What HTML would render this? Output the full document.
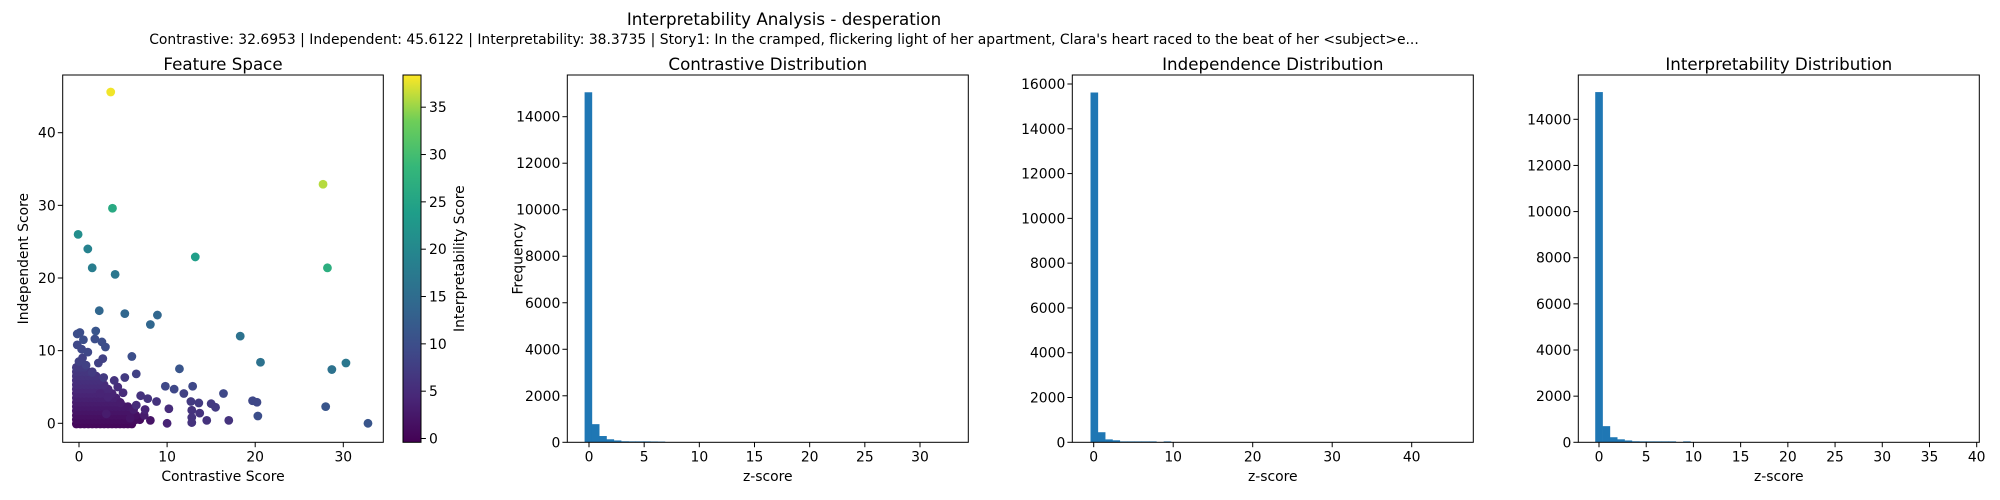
<!DOCTYPE html>
<html><head><meta charset="utf-8"><style>
html,body{margin:0;padding:0;background:#fff;}
svg{display:block;font-family:"DejaVu Sans","Liberation Sans",sans-serif;}
</style></head><body>
<svg id="fig" width="2000" height="500" viewBox="0 0 2000 500" xmlns="http://www.w3.org/2000/svg">
<text x="784" y="25" font-size="16.7" text-anchor="middle" fill="#000">Interpretability Analysis - desperation</text>
<text x="784" y="44" font-size="13.9" text-anchor="middle" fill="#000">Contrastive: 32.6953 | Independent: 45.6122 | Interpretability: 38.3735 | Story1: In the cramped, flickering light of her apartment, Clara's heart raced to the beat of her &lt;subject&gt;e...</text>
<defs>
<linearGradient id="vir" x1="0" y1="1" x2="0" y2="0">
<stop offset="0" stop-color="#440154"/><stop offset="0.125" stop-color="#482878"/><stop offset="0.25" stop-color="#3e4a89"/><stop offset="0.375" stop-color="#31688e"/><stop offset="0.5" stop-color="#26828e"/><stop offset="0.625" stop-color="#1f9e89"/><stop offset="0.75" stop-color="#35b779"/><stop offset="0.875" stop-color="#6ece58"/><stop offset="1" stop-color="#fde725"/>
</linearGradient>
</defs>
<g id="g"></g>
</svg>
<script>
// scatter data: contrastive score, independent score, interpretability score
const scatterX = [3.6,27.7,3.8,-0.1,1,1.5,4.1,13.2,28.2,2.3,5.2,8.9,8.1,18.3,20.6,30.3,28.7,11.4,6,6.5,9.8,10.8,11.9,12.9,16.4,19.7,20.2,20.3,28,32.8,17,14.5,13.6,15,15.5,12.7,12.8,12.8,12.8,13.7,10.2,10,8.8,7.8,7,7.5,6.5,4,5.2,4.4,5,1.9,-0.2,0.1,0.5,1.8,2.6,3,-0.2,0.3,1,2.7,2.2,0,0.8,2.8,1.5,0.4,3.3,4.7,6.2,7.4,8.1,5.8,3.1,2.4];
const scatterY = [45.6,32.9,29.6,26,24,21.4,20.5,22.9,21.4,15.5,15.1,14.9,13.6,12,8.4,8.3,7.4,7.5,9.2,6.8,5.1,4.7,4.1,5.1,4.1,3.1,2.9,1,2.3,0,0.4,0.4,2.8,2.7,2.2,3,1.8,0.8,0.1,1.4,2,0,3,3.4,3.8,1.9,2.5,5.9,6.3,5,4.2,12.7,12.3,12.5,11.5,11.6,11.2,10.5,10.8,10.2,9.8,8.9,8.3,8.5,8,6.3,7,9,3.6,2.8,1.9,1.1,0.4,0.7,1.3,4.1];
const scatterC = [38,36,26,21,19,18,17,24,27,14,14,14,14,16,16,17,16,11,10,8,9,9,8,9,9,9,9,10,11,11,6,6,7,7,7,7,6,6,6,6,5,4,6,6,6,4,5,6,7,5,5,11,10,10,10,10,10,10,9,9,9,8,8,8,8,7,7,8,4,3,3,3,2,2,3,4];
// dense cluster near origin: each row = independent score, max contrastive score reached, typical interpretability
const clusterRowY = [-0.1,0.5,1.1,1.7,2.3,2.9,3.5,4.1,4.7,5.3,5.9,6.5,7.1,7.7];
const clusterRowMaxX = [6.2,7.2,6.8,6.2,5.6,5,4.6,4,3.5,3,2.6,2.2,1.6,1];
const clusterRowC = [0.5,1,1.5,2,2.5,3,3.5,4,4.5,5,5.5,6,6.5,7];
const scatterXTicks = [0,10,20,30];
const scatterYTicks = [0,10,20,30,40];
const cbarTicks = [0,5,10,15,20,25,30,35];
// histograms: bin counts
const contrastCounts = [15050,780,270,130,80,45,40,40,40,35,30,0,0,0,0,0,0,0,0,0,0,0,0,0,0,0,0,0,0,0,0,0,0,0,0,0,0,0,0,0,0,0,0,0,0,0,0,0,0,5];
const independCounts = [15620,450,130,90,40,40,40,40,40,0,40,0,0,0,0,0,0,0,0,0,0,0,0,0,0,0,0,0,0,0,0,0,0,0,0,0,0,0,0,0,0,0,0,0,0,0,0,0,0,5];
const interpCounts = [15180,700,220,130,80,45,40,40,40,40,40,0,40,0,0,0,0,0,0,0,0,0,0,0,0,0,0,0,0,0,0,0,0,0,0,0,0,0,0,0,0,0,0,0,0,0,0,0,0,5];
const contrastRange = [-0.4,32.7];
const independRange = [-0.4,45.6];
const interpRange = [-0.4,38.4];
const contrastXTicks = [0,5,10,15,20,25,30];
const contrastYTicks = [0,2000,4000,6000,8000,10000,12000,14000];
const independXTicks = [0,10,20,30,40];
const independYTicks = [0,2000,4000,6000,8000,10000,12000,14000,16000];
const interpXTicks = [0,5,10,15,20,25,30,35,40];
const interpYTicks = [0,2000,4000,6000,8000,10000,12000,14000];

const NS="http://www.w3.org/2000/svg";
const G=document.getElementById('g');
function mk(tag,attrs,parent){const e=document.createElementNS(NS,tag);for(const k in attrs)e.setAttribute(k,attrs[k]);(parent||G).appendChild(e);return e;}
function lin(d0,d1,r0,r1){return v=>r0+(v-d0)/(d1-d0)*(r1-r0);}
const VIR=[[68,1,84],[72,40,120],[62,74,137],[49,104,142],[38,130,142],[31,158,137],[53,183,121],[110,206,88],[253,231,37]];
function viridis(t){t=Math.max(0,Math.min(1,t));const p=t*(VIR.length-1);const i=Math.min(VIR.length-2,Math.floor(p));const f=p-i;const a=VIR[i],b=VIR[i+1];return 'rgb('+[0,1,2].map(k=>Math.round(a[k]+(b[k]-a[k])*f)).join(',')+')';}
function txt(x,y,s,size,anchor,name,rot){const t=mk('text',{x:x,y:y,'font-size':size,'text-anchor':anchor,fill:'#000'});if(rot)t.setAttribute('transform','rotate(-90 '+x+' '+y+')');t.textContent=s;return t;}
function frame(L,R,T,B,name){const r=mk('rect',{x:L,y:T,width:R-L,height:B-T,fill:'none',stroke:'#000','stroke-width':1});}
function xticks(ticks,sx,B,name){ticks.forEach(v=>{mk('line',{x1:sx(v),x2:sx(v),y1:B,y2:B+4.9,stroke:'#000','stroke-width':1});txt(sx(v),B+19,String(v),13.9,'middle',name+'-tick-label');});}
function yticks(ticks,sy,L,name){ticks.forEach(v=>{mk('line',{x1:L-4.9,x2:L,y1:sy(v),y2:sy(v),stroke:'#000','stroke-width':1});txt(L-7,sy(v)+5,String(v),13.9,'end',name+'-tick-label');});}

const T=75,B=442.3;
// scatter
{const L=62.7,R=383.3;
const sx=lin(0,30,79,343.3), sy=lin(0,40,423.3,132.7);
const cmin=-0.4,cmax=38.4;
function dot(x,y,c){const e=mk('circle',{cx:sx(x),cy:sy(y),r:4.4,fill:viridis((c-cmin)/(cmax-cmin))});

}
clusterRowY.forEach((y,r)=>{for(let x=-0.3;x<=clusterRowMaxX[r];x+=0.45){dot(x,y,clusterRowC[r]);}});
const order=scatterC.map((c,i)=>i).sort((a,b)=>scatterC[a]-scatterC[b]);
order.forEach(i=>{if(scatterX[i]===undefined||scatterY[i]===undefined)return;dot(scatterX[i],scatterY[i],scatterC[i]);});
frame(L,R,T,B,'feature-space-axes');
xticks(scatterXTicks,sx,B,'scatter-x');yticks(scatterYTicks,sy,L,'scatter-y');
txt((L+R)/2,70,'Feature Space',16.7,'middle','feature-space-title');
txt((L+R)/2,481,'Contrastive Score',13.9,'middle','x-axis-title');
txt(28,(T+B)/2,'Independent Score',13.9,'middle','y-axis-title',true);
// colorbar
const cL=403,cR=421;const cs=lin(cmin,cmax,B,T);
const cb=mk('rect',{x:cL,y:T,width:cR-cL,height:B-T,fill:'url(#vir)',stroke:'#000','stroke-width':1});


cbarTicks.forEach(v=>{mk('line',{x1:cR,x2:cR+4.9,y1:cs(v),y2:cs(v),stroke:'#000'});txt(cR+8,cs(v)+5,String(v),13.9,'start','colorbar-tick-label');});
txt(464,(T+B)/2,'Interpretability Score',13.9,'middle','colorbar-title',true);
}
function hist(counts,range,L,R,x0px,x1px,xt,ymax,yt,title,name,showY){
const sx=lin(xt[0],xt[xt.length-1],x0px,x1px);
const sy=lin(0,ymax[0],B,ymax[1]);
const w=(range[1]-range[0])/counts.length;
counts.forEach((c,i)=>{if(c<=0)return;const a=sx(range[0]+i*w),b=sx(range[0]+(i+1)*w);
const r=mk('rect',{x:a,y:sy(c),width:b-a+0.3,height:B-sy(c),fill:'#1f77b4'});

});
frame(L,R,T,B,name+'-axes');
xticks(xt,sx,B,name+'-x');yticks(yt,sy,L,name+'-y');
txt((L+R)/2,70,title,16.7,'middle',name+'-title');
txt((L+R)/2,481,'z-score',13.9,'middle',name+'-x-axis-title');
if(showY)txt(L-45,(T+B)/2,'Frequency',13.9,'middle',name+'-y-axis-title',true);
}
hist(contrastCounts,contrastRange,567.3,968.3,589,920,contrastXTicks,[14000,116.7],contrastYTicks,'Contrastive Distribution','contrastive-hist',true);
hist(independCounts,independRange,1072.3,1473.3,1093.7,1411.7,independXTicks,[16000,84],independYTicks,'Independence Distribution','independence-hist',false);
hist(interpCounts,interpRange,1578.3,1979.3,1599,1976.7,interpXTicks,[14000,119.3],interpYTicks,'Interpretability Distribution','interpretability-hist',false);
</script>
</body></html>
